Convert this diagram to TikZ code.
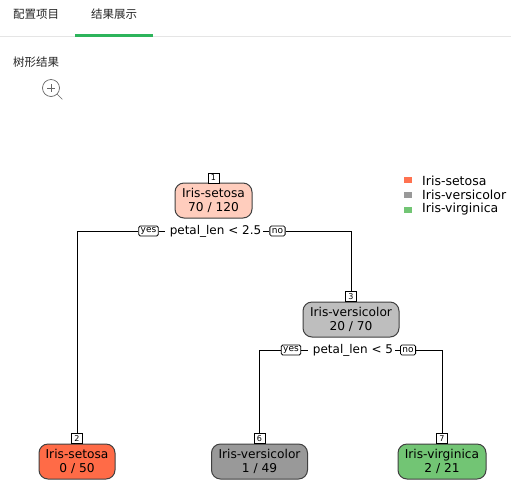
\documentclass[tikz,border=0pt]{standalone}
\usepackage{fontspec}
\setmainfont{DejaVu Sans}
\newfontfamily\cjk{Noto Sans CJK SC}
\definecolor{cSet}{HTML}{FF6B47}
\definecolor{cSetL}{HTML}{FFCDBD}
\definecolor{cVer}{HTML}{999999}
\definecolor{cVerL}{HTML}{BEBEBE}
\definecolor{cVir}{HTML}{72C574}
\definecolor{cGreen}{HTML}{2DB45B}
\tikzset{
 x=1pt,y=-1pt,
 tree/.style={draw=black!75,line width=1pt,rounded corners=9pt,minimum height=35pt,inner sep=0pt,align=center,font=\fontsize{12.2}{14}\selectfont,text=black},
 idx/.style={draw=black,fill=white,line width=.8pt,minimum width=11pt,minimum height=10pt,inner sep=0pt,font=\fontsize{8}{8}\selectfont},
 tag/.style={draw=black,fill=white,rounded corners=1.5pt,line width=.8pt,minimum height=10pt,inner ysep=0pt,inner xsep=2pt,font=\fontsize{9}{9}\selectfont},
 split/.style={inner ysep=0pt,inner xsep=2pt,font=\fontsize{12}{12}\selectfont},
 edge/.style={draw=black,line width=.9pt},
 tab/.style={inner sep=0pt,text=black!85,font=\cjk\fontsize{11.5}{11.5}\selectfont},
 leg/.style={inner sep=0pt,anchor=west,font=\fontsize{12.5}{12.5}\selectfont},
 swatch/.style={minimum width=8pt,minimum height=6pt,inner sep=0pt}
}
\begin{document}
\begin{tikzpicture}
\useasboundingbox (0,0) rectangle (511,491);
\fill[white] (0,0) rectangle (511,491);
\draw[black!10,line width=1pt] (0,36.5) -- (511,36.5);
\fill[cGreen] (75,33.5) rectangle (153,36.5);
\node[tab] (t1) at (36,14.5) {配置项目};
\node[tab] (t2) at (114,14.5) {结果展示};
\node[tab] (t3) at (36,62) {树形结果};
% zoom icon
\node[circle,draw=black!60,line width=.7pt,minimum size=17pt,inner sep=0pt] (zoomi) at (51,88) {};
\draw[black!60,line width=.7pt] (47,88) -- (55,88) (51,84) -- (51,92);
\draw[black!60,line width=.7pt] (zoomi.south east) -- ++(5,5);
% nodes
\node[tree,fill=cSetL,minimum width=77pt] (n1) at (213.5,200.5) {Iris-setosa\\70 / 120};
\node[tree,fill=cVerL,minimum width=96pt] (n3) at (351,319.5) {Iris-versicolor\\20 / 70};
\node[tree,fill=cSet,minimum width=76pt] (n2) at (77,461.5) {Iris-setosa\\0 / 50};
\node[tree,fill=cVer,minimum width=96pt] (n6) at (259.5,461.5) {Iris-versicolor\\1 / 49};
\node[tree,fill=cVir,minimum width=88pt] (n7) at (442,461.5) {Iris-virginica\\2 / 21};
\node[idx] (i1) at (213.5,178) {1};
\node[idx] (i3) at (351,296.5) {3};
\node[idx] (i2) at (77,438.5) {2};
\node[idx] (i6) at (259.5,438.5) {6};
\node[idx] (i7) at (442,438.5) {7};
% splits
\node[split] (s1) at (215.5,231) {petal\_len < 2.5};
\node[split] (s3) at (353,350) {petal\_len < 5};
\node[tag] (y1) at (148.5,231) {yes};
\node[tag] (o1) at (277.5,231) {no};
\node[tag] (y3) at (291,350) {yes};
\node[tag] (o3) at (408,350) {no};
% connectors
\draw[edge] (i2.north) |- (y1.west);
\draw[edge,shorten >=3pt] (y1.east) -- (s1.west);
\draw[edge] (s1.east) -- (o1.west);
\draw[edge] (o1.east) -| (i3.north);
\draw[edge] (i6.north) |- (y3.west);
\draw[edge,shorten >=3pt] (y3.east) -- (s3.west);
\draw[edge] (s3.east) -- (o3.west);
\draw[edge] (o3.east) -| (i7.north);
% legend
\node[swatch,fill=cSet!95!white] (k1) at (407.5,180) {};
\node[swatch,fill=black!40] (k2) at (407.5,194.5) {};
\node[swatch,fill=cVir] (k3) at (407.5,209.5) {};
\node[leg] (l1) at (422,180.5) {Iris-setosa};
\node[leg] (l2) at (422,195) {Iris-versicolor};
\node[leg] (l3) at (422,209.5) {Iris-virginica};
\end{tikzpicture}
\end{document}
